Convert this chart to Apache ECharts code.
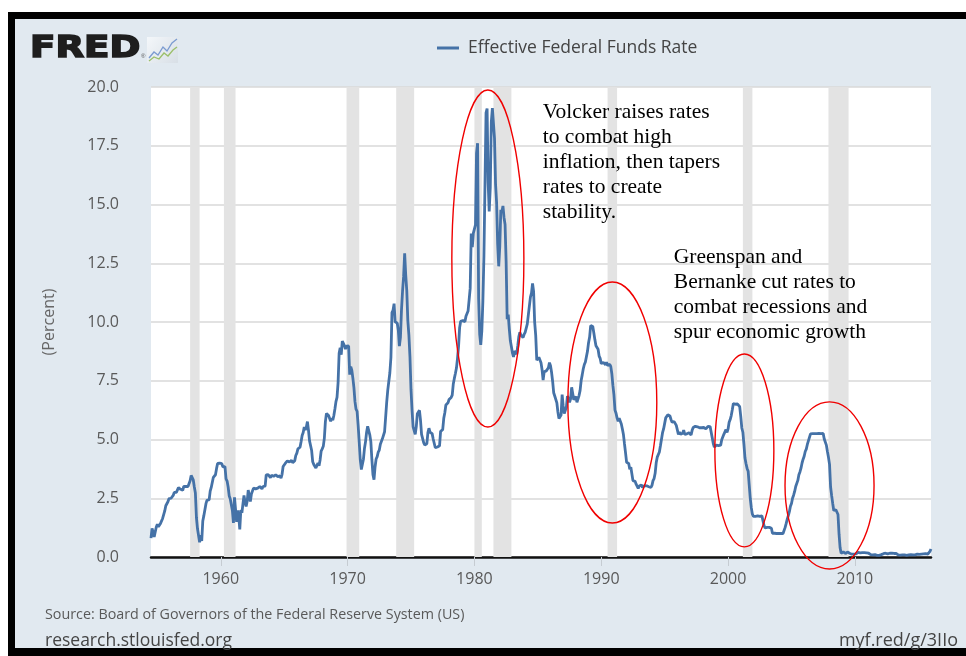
<!DOCTYPE html>
<html>
<head>
<meta charset="utf-8">
<title>Effective Federal Funds Rate</title>
<script src="https://cdn.jsdelivr.net/npm/echarts@6/dist/echarts.min.js"></script>
<style>
  html, body { margin: 0; padding: 0; background: #ffffff; }
  #frame { position: absolute; left: 8px; top: 12px; width: 958px; height: 644px; background: #000000; }
  #panel { position: absolute; left: 15px; top: 19px; width: 951px; height: 629px; background: #e1e9f0; }
  #chart { position: absolute; left: 0; top: 0; width: 966px; height: 656px; }
</style>
</head>
<body>
<div id="frame"></div>
<div id="panel"></div>
<div id="chart"></div>
<script>
// Effective federal funds rate, monthly averages (percent)
const seriesName = 'Effective Federal Funds Rate';
const startYear = 1954;
const startMonth = 7;

const rates1950s = [
  0.80, 1.22, 1.06, 0.85, 0.83, 1.28,                               // 1954 Jul-Dec
  1.39, 1.29, 1.35, 1.43, 1.43, 1.64, 1.68, 1.96, 2.18, 2.24, 2.35, 2.48,
  2.45, 2.50, 2.50, 2.62, 2.75, 2.71, 2.75, 2.73, 2.95, 2.96, 2.88, 2.94,
  2.84, 3.00, 2.96, 3.00, 3.00, 3.00, 2.99, 3.24, 3.47, 3.50, 3.28, 2.98,
  2.72, 1.67, 1.20, 1.26, 0.63, 0.93, 0.68, 1.53, 1.76, 1.80, 2.27, 2.42,
  2.48, 2.43, 2.80, 2.96, 2.90, 3.39, 3.47, 3.50, 3.76, 3.98, 4.00, 3.99
];
const rates1960s = [
  3.99, 3.97, 3.84, 3.92, 3.85, 3.32, 3.23, 2.98, 2.60, 2.47, 2.44, 1.98,
  1.45, 2.54, 2.02, 1.49, 1.98, 1.73, 1.17, 2.00, 1.88, 2.26, 2.62, 2.33,
  2.15, 2.37, 2.85, 2.78, 2.36, 2.68, 2.71, 2.93, 2.90, 2.90, 2.94, 2.93,
  2.92, 3.00, 2.98, 2.90, 3.00, 2.99, 3.02, 3.49, 3.48, 3.50, 3.48, 3.38,
  3.48, 3.48, 3.43, 3.47, 3.50, 3.50, 3.42, 3.50, 3.45, 3.36, 3.52, 3.85,
  3.90, 3.98, 4.04, 4.09, 4.10, 4.04, 4.09, 4.12, 4.01, 4.08, 4.10, 4.32,
  4.42, 4.60, 4.65, 4.67, 4.90, 5.17, 5.30, 5.53, 5.40, 5.53, 5.76, 5.40,
  4.94, 5.00, 4.53, 4.05, 3.94, 3.98, 3.79, 3.90, 3.99, 3.88, 4.13, 4.51,
  4.60, 4.71, 5.05, 5.76, 6.11, 6.07, 6.02, 6.03, 5.78, 5.91, 5.82, 6.02,
  6.30, 6.61, 6.79, 7.41, 8.67, 8.90, 8.61, 9.19, 9.15, 9.00, 8.85, 8.97
];
const rates1970s = [
  8.98, 8.98, 7.76, 8.10, 7.95, 7.61, 7.21, 6.61, 6.29, 6.20, 5.60, 4.90,
  4.14, 3.72, 3.71, 4.16, 4.63, 4.91, 5.31, 5.56, 5.55, 5.20, 4.91, 4.14,
  3.50, 3.29, 3.83, 4.17, 4.27, 4.46, 4.55, 4.80, 4.87, 5.04, 5.06, 5.33,
  5.94, 6.58, 7.09, 7.12, 7.84, 8.49, 10.40, 10.50, 10.78, 10.01, 10.03, 9.95,
  9.65, 8.97, 9.35, 10.51, 11.31, 11.93, 12.92, 12.01, 11.34, 10.06, 9.45, 8.53,
  7.13, 6.24, 5.54, 5.49, 5.22, 5.55, 6.10, 6.14, 6.24, 5.82, 5.22, 5.20,
  4.87, 4.77, 4.84, 4.82, 5.29, 5.48, 5.31, 5.29, 5.25, 5.02, 4.95, 4.65,
  4.61, 4.68, 4.69, 4.73, 5.35, 5.39, 5.42, 5.90, 6.14, 6.47, 6.51, 6.56,
  6.70, 6.78, 6.79, 6.89, 7.36, 7.60, 7.81, 8.04, 8.45, 8.96, 9.76, 10.03,
  10.07, 10.06, 10.09, 10.01, 10.24, 10.29, 10.47, 10.94, 11.43, 13.77, 13.18, 13.78
];
const rates1980s = [
  13.82, 14.13, 17.19, 17.61, 10.98, 9.47, 9.03, 9.61, 10.87, 12.81, 15.85, 18.90,
  19.08, 15.93, 14.70, 15.72, 18.52, 19.10, 19.04, 17.82, 15.87, 15.08, 13.31, 12.37,
  13.22, 14.78, 14.68, 14.94, 14.45, 14.15, 12.59, 10.12, 10.31, 9.71, 9.20, 8.95,
  8.68, 8.51, 8.77, 8.80, 8.63, 8.98, 9.37, 9.56, 9.45, 9.48, 9.34, 9.47,
  9.56, 9.59, 9.91, 10.29, 10.32, 11.06, 11.23, 11.64, 11.30, 9.99, 9.43, 8.38,
  8.35, 8.50, 8.58, 8.27, 7.97, 7.53, 7.88, 7.90, 7.92, 7.99, 8.05, 8.27,
  8.14, 7.86, 7.48, 6.99, 6.85, 6.92, 6.56, 6.17, 5.89, 5.85, 6.04, 6.91,
  6.43, 6.10, 6.13, 6.37, 6.85, 6.73, 6.58, 6.73, 7.22, 7.29, 6.69, 6.77,
  6.83, 6.58, 6.58, 6.87, 7.09, 7.51, 7.75, 8.01, 8.19, 8.30, 8.35, 8.76,
  9.12, 9.36, 9.85, 9.84, 9.81, 9.53, 9.24, 8.99, 9.02, 8.84, 8.55, 8.45
];
const rates1990s = [
  8.23, 8.24, 8.28, 8.26, 8.18, 8.29, 8.15, 8.13, 8.20, 8.11, 7.81, 7.31,
  6.91, 6.25, 6.12, 5.91, 5.78, 5.90, 5.82, 5.66, 5.45, 5.21, 4.81, 4.43,
  4.03, 4.06, 3.98, 3.73, 3.82, 3.76, 3.25, 3.30, 3.22, 3.10, 3.09, 2.92,
  3.02, 3.03, 3.07, 2.96, 3.00, 3.04, 3.06, 3.03, 3.09, 2.99, 3.02, 2.96,
  3.05, 3.25, 3.34, 3.56, 4.01, 4.25, 4.26, 4.47, 4.73, 4.76, 5.29, 5.45,
  5.53, 5.92, 5.98, 6.05, 6.01, 6.00, 5.85, 5.74, 5.80, 5.76, 5.80, 5.60,
  5.56, 5.22, 5.31, 5.22, 5.24, 5.27, 5.40, 5.22, 5.30, 5.24, 5.31, 5.29,
  5.25, 5.19, 5.39, 5.51, 5.50, 5.56, 5.52, 5.54, 5.54, 5.50, 5.52, 5.50,
  5.56, 5.51, 5.49, 5.45, 5.49, 5.56, 5.54, 5.55, 5.51, 5.07, 4.83, 4.68,
  4.63, 4.76, 4.81, 4.74, 4.74, 4.76, 4.99, 5.07, 5.22, 5.20, 5.42, 5.30
];
const rates2000s = [
  5.45, 5.73, 5.85, 6.02, 6.27, 6.53, 6.54, 6.50, 6.52, 6.51, 6.51, 6.40,
  5.98, 5.49, 5.31, 4.80, 4.21, 3.97, 3.77, 3.65, 3.07, 2.49, 2.09, 1.82,
  1.73, 1.74, 1.73, 1.75, 1.75, 1.75, 1.73, 1.74, 1.75, 1.75, 1.34, 1.24,
  1.24, 1.26, 1.25, 1.26, 1.26, 1.22, 1.01, 1.03, 1.01, 1.01, 1.00, 0.98,
  1.00, 1.01, 1.00, 1.00, 1.00, 1.03, 1.26, 1.43, 1.61, 1.76, 1.93, 2.16,
  2.28, 2.50, 2.63, 2.79, 3.00, 3.04, 3.26, 3.50, 3.62, 3.78, 4.00, 4.16,
  4.29, 4.49, 4.59, 4.79, 4.94, 4.99, 5.24, 5.25, 5.25, 5.25, 5.25, 5.24,
  5.25, 5.26, 5.26, 5.25, 5.25, 5.25, 5.26, 5.02, 4.94, 4.76, 4.49, 4.24,
  3.94, 2.98, 2.61, 2.28, 1.98, 2.00, 2.01, 2.00, 1.81, 0.97, 0.39, 0.16,
  0.15, 0.22, 0.18, 0.15, 0.18, 0.21, 0.16, 0.16, 0.15, 0.12, 0.12, 0.12
];
const rates2010s = [
  0.11, 0.13, 0.16, 0.20, 0.20, 0.18, 0.18, 0.19, 0.19, 0.19, 0.19, 0.18,
  0.17, 0.16, 0.14, 0.10, 0.09, 0.09, 0.07, 0.10, 0.08, 0.07, 0.08, 0.07,
  0.08, 0.10, 0.13, 0.14, 0.16, 0.16, 0.16, 0.13, 0.14, 0.16, 0.16, 0.16,
  0.14, 0.15, 0.14, 0.15, 0.11, 0.09, 0.09, 0.08, 0.08, 0.09, 0.08, 0.09,
  0.07, 0.07, 0.08, 0.09, 0.09, 0.10, 0.09, 0.09, 0.09, 0.09, 0.09, 0.12,
  0.11, 0.11, 0.11, 0.12, 0.12, 0.13, 0.13, 0.14, 0.14, 0.12, 0.12, 0.24,
  0.34                                                               // 2016 Jan
];

// NBER recessions: [start year, start month, end year, end month]
const recessions = [
  [1957, 8, 1958, 4],
  [1960, 4, 1961, 2],
  [1969, 12, 1970, 11],
  [1973, 11, 1975, 3],
  [1980, 1, 1980, 7],
  [1981, 7, 1982, 11],
  [1990, 7, 1991, 3],
  [2001, 3, 2001, 11],
  [2007, 12, 2009, 6]
];

const xTickYears = [1960, 1970, 1980, 1990, 2000, 2010];

const volckerNote = ['Volcker raises rates', 'to combat high', 'inflation, then tapers', 'rates to create', 'stability.'];
const greenspanNote = ['Greenspan and', 'Bernanke cut rates to', 'combat recessions and', 'spur economic growth'];

// ---- build series -------------------------------------------------------
const allRates = [].concat(rates1950s, rates1960s, rates1970s, rates1980s, rates1990s, rates2000s, rates2010s);
const seriesData = allRates.map((v, i) => [startYear + (startMonth - 1 + i) / 12, v]);
const xMin = seriesData[0][0];
const xMax = seriesData[seriesData.length - 1][0];

const recessionAreas = recessions.map(r => [
  { xAxis: r[0] + (r[1] - 1) / 12 },
  { xAxis: r[2] + r[3] / 12 }
]);

const sansFont = '"Open Sans", "Noto Sans", sans-serif';
const serifFont = '"Liberation Serif", "DejaVu Serif", serif';

const chart = echarts.init(document.getElementById('chart'), null, { renderer: 'canvas' });

chart.setOption({
  backgroundColor: 'transparent',
  animation: false,
  textStyle: { fontFamily: sansFont },
  grid: {
    left: 151, right: 35, top: 87, bottom: 99,
    show: true, backgroundColor: '#ffffff', borderWidth: 0
  },
  legend: {
    data: [seriesName],
    left: 437, top: 39, padding: 0,
    icon: 'rect', itemWidth: 22, itemHeight: 3, itemGap: 10,
    textStyle: { fontSize: 17.5, color: '#444444', fontFamily: sansFont, padding: [0, 0, 0, 4] }
  },
  xAxis: {
    type: 'value',
    min: xMin, max: xMax,
    axisLine: { onZero: false, lineStyle: { color: '#111111', width: 2.5 } },
    axisTick: { show: true, customValues: xTickYears, length: 9, lineStyle: { color: '#c6ccd2', width: 1 } },
    axisLabel: {
      customValues: xTickYears,
      formatter: v => String(Math.round(v)),
      fontSize: 16, color: '#595959', margin: 14, fontFamily: sansFont
    },
    splitLine: { show: false }
  },
  yAxis: {
    type: 'value',
    min: 0, max: 20, interval: 2.5,
    axisLine: { show: false },
    axisTick: { show: false },
    axisLabel: { formatter: v => v.toFixed(1), fontSize: 16, color: '#595959', margin: 32, fontFamily: sansFont },
    splitLine: { lineStyle: { color: '#d9d9d9', width: 1.5 } },
    name: '(Percent)', nameLocation: 'middle', nameGap: 94, nameRotate: 90,
    nameTextStyle: { fontSize: 16, color: '#666666', fontFamily: sansFont }
  },
  series: [{
    name: seriesName,
    type: 'line',
    data: seriesData,
    showSymbol: false,
    symbol: 'none',
    lineStyle: { color: '#4572a7', width: 2.8 },
    itemStyle: { color: '#4572a7' },
    markArea: {
      silent: true,
      itemStyle: { color: '#e3e3e3' },
      data: recessionAreas
    }
  }]
});

// ---- header, footer and hand-drawn notes -----------------------------------
function px(x, y) { return chart.convertToPixel({ gridIndex: 0 }, [x, y]); }

// ellipse bounds in axis units: [year from, year to, percent low, percent high]
function ellipseFrom(b) {
  const a = px(b[0], b[3]);
  const c = px(b[1], b[2]);
  return {
    type: 'ellipse',
    shape: { cx: (a[0] + c[0]) / 2, cy: (a[1] + c[1]) / 2, rx: (c[0] - a[0]) / 2, ry: (c[1] - a[1]) / 2 },
    style: { fill: null, stroke: '#f00000', lineWidth: 1.4 },
    z: 20, silent: true
  };
}

function noteFrom(lines, year, pct) {
  const p = px(year, pct);
  return {
    type: 'text', x: p[0], y: p[1], z: 20, silent: true,
    style: {
      text: lines.join('\n'), font: '21.5px ' + serifFont, lineHeight: 25,
      fill: '#000000', textAlign: 'left', textVerticalAlign: 'top'
    }
  };
}

const graphics = [
  // FRED wordmark
  {
    type: 'text', x: 30, y: 33, scaleX: 1.2, z: 20,
    style: {
      text: 'FRED', font: '900 31px "DejaVu Sans", sans-serif', fill: '#1e1e1e',
      stroke: '#1e1e1e', lineWidth: 1.6, textVerticalAlign: 'top'
    }
  },
  { type: 'text', x: 141, y: 53, z: 20, style: { text: '\u00ae', font: '6px sans-serif', fill: '#555555' } },
  {
    type: 'rect', shape: { x: 147, y: 37, width: 31, height: 26 }, z: 19,
    style: {
      fill: new echarts.graphic.LinearGradient(0, 0, 1, 1, [
        { offset: 0, color: '#f4f7fa' }, { offset: 1, color: '#d8dfe6' }
      ])
    }
  },
  {
    type: 'polyline', z: 20,
    shape: { points: [[149, 58], [154, 52], [158, 55], [163, 47], [167, 51], [172, 43], [177, 39]] },
    style: { stroke: '#7b9bd0', lineWidth: 1.3, fill: null }
  },
  {
    type: 'polyline', z: 20,
    shape: { points: [[149, 61], [154, 57], [159, 59], [164, 53], [168, 56], [173, 50], [177, 47]] },
    style: { stroke: '#9bbf6a', lineWidth: 1.3, fill: null }
  },
  // footer
  {
    type: 'text', x: 45, y: 615, z: 20,
    style: { text: 'Source: Board of Governors of the Federal Reserve System (US)', font: '14.3px ' + sansFont, fill: '#595959', textVerticalAlign: 'middle' }
  },
  {
    type: 'text', x: 45, y: 641, z: 20,
    style: { text: 'research.stlouisfed.org', font: '17.5px ' + sansFont, fill: '#444444', textVerticalAlign: 'middle' }
  },
  {
    type: 'text', x: 958, y: 641, z: 20,
    style: { text: 'myf.red/g/3IIo', font: '18px ' + sansFont, fill: '#444444', textAlign: 'right', textVerticalAlign: 'middle' }
  },
  // commentary
  noteFrom(volckerNote, 1985.39, 19.45),
  noteFrom(greenspanNote, 1995.72, 13.30),
  ellipseFrom([1978.22, 1983.90, 5.53, 19.87]),
  ellipseFrom([1987.37, 1994.38, 1.45, 11.70]),
  ellipseFrom([1998.96, 2003.61, 0.43, 8.64]),
  ellipseFrom([2004.49, 2011.51, -0.51, 6.60])
];

chart.setOption({ graphic: graphics });
</script>
</body>
</html>
